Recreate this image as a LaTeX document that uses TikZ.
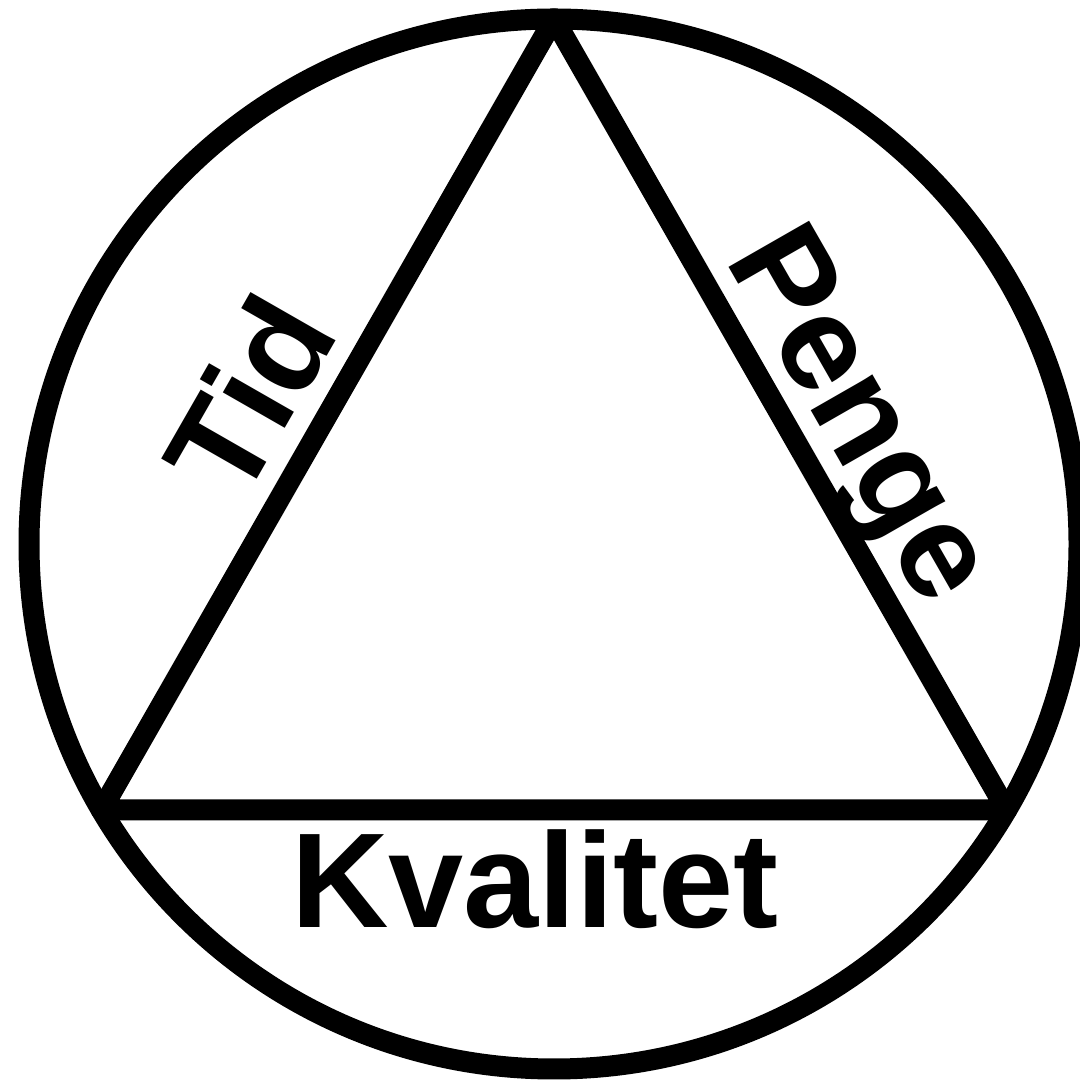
\documentclass[tikz,border=0pt]{standalone}
\usepackage{fontspec}
\setmainfont{Liberation Sans}
\begin{document}
\begin{tikzpicture}[x=1pt,y=1pt,
  ring/.style={line width=21pt},
  edge/.style={line width=21pt, line join=round, line cap=round},
  lbl/.style={inner sep=0pt, anchor=base, font=\fontsize{135}{140}\selectfont\bfseries}]
\useasboundingbox (0,0) rectangle (1079,1084);
\fill[white] (0,0) rectangle (1079,1084);
\coordinate (ctr) at (554,540);
\coordinate (top) at (554,1065);
\coordinate (bl) at (101.4,274);
\coordinate (br) at (1006.6,274);
\draw[ring] (ctr) circle[radius=525];
\draw[edge] (top) -- (bl) -- (br) -- cycle;
\node[lbl, rotate=60.2] (tid) at (290.8,664.7) {Tid};
\node[lbl, rotate=-60.2] (penge) at (825,649.2) {Penge};
\node[lbl] (kval) at (535,156) {Kvalitet};
\end{tikzpicture}
\end{document}
